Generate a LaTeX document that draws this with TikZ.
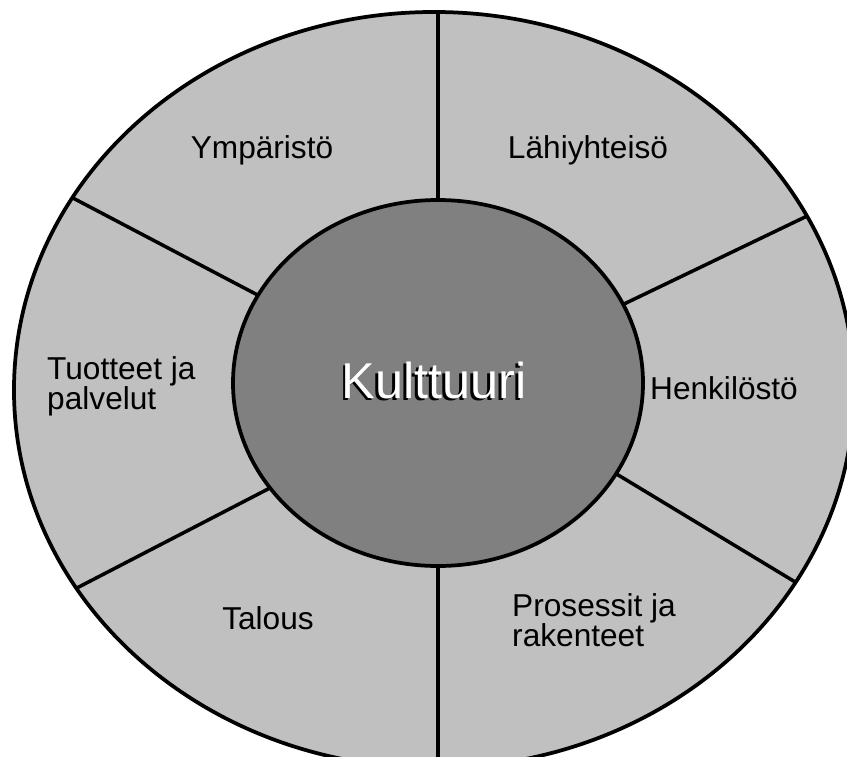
\documentclass[tikz,border=0pt]{standalone}
\usepackage{fontspec}
\setmainfont{Liberation Sans}
\usetikzlibrary{shapes.geometric}
\definecolor{ringgrey}{RGB}{192,192,192}
\definecolor{coregrey}{RGB}{128,128,128}
\begin{document}
\begin{tikzpicture}[x=0.03cm,y=-0.03cm,
	ring/.style={ellipse,draw,line width=3.2pt,inner sep=0pt,outer sep=0pt},
	spoke/.style={line width=3pt},
	lbl/.style={font=\fontsize{27}{25.5}\selectfont,align=left,inner sep=0pt}]
		\useasboundingbox (0,0) rectangle (847,756);
		\clip (0,0) rectangle (847,756);
		% rings
		\node[ring,fill=ringgrey,minimum width=25.2cm,minimum height=22.68cm] (outer) at (434,390) {};
		\node[ring,fill=coregrey,minimum width=12.3cm,minimum height=10.98cm] (inner) at (438,383) {};
		\foreach \i/\o in {154/152,23/25,212/209,-27/-28}
		{
			\draw[spoke] (inner.\i) -- (outer.\o);
		}
		\draw[spoke] (inner.north) -- (inner.north |- outer.north);
		\draw[spoke] (inner.south) -- (inner.south |- outer.south);
		% core text with shadow
		\node[font=\fontsize{43}{50}\selectfont,text=black] (kultshadow) at (431.5,382) {Kulttuuri};
		\node[font=\fontsize{43}{50}\selectfont,text=white] (kult) at (434,380) {Kulttuuri};
		% sectors
		\node[lbl] (ymp) at (262,150) {Ympäristö};
		\node[lbl] (lahi) at (588,150) {Lähiyhteisö};
		\node[lbl,anchor=west] (tuot) at (47,386) {Tuotteet ja\\palvelut};
		\node[lbl] (henk) at (724,388) {Henkilöstö};
		\node[lbl] (tal) at (268,618) {Talous};
		\node[lbl,anchor=west] (pros) at (512,620) {Prosessit ja\\rakenteet};
\end{tikzpicture}
\end{document}
